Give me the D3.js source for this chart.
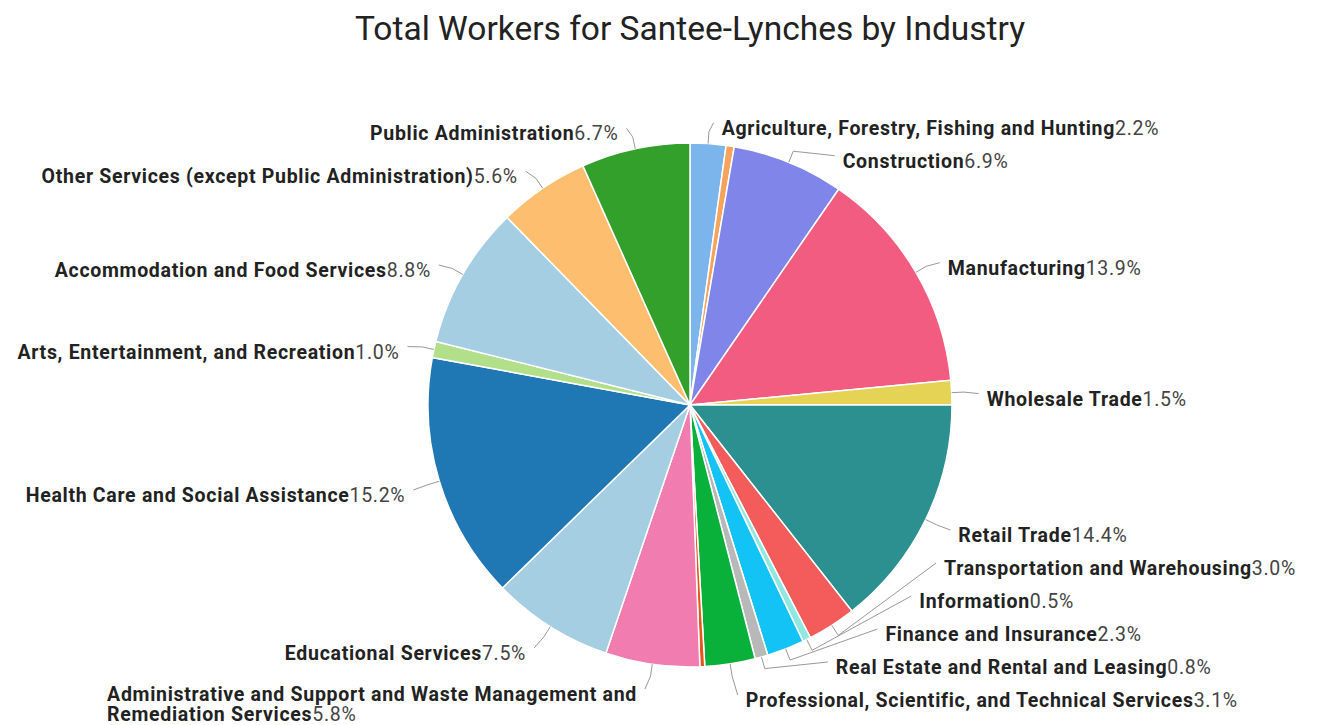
<!DOCTYPE html>
<html>
<head>
<meta charset="utf-8">
<script src="https://cdn.jsdelivr.net/npm/d3@7"></script>
<style>
  body { margin: 0; background: #fff; font-family: Roboto, "Noto Sans", sans-serif; }
  .title { font-size: 33.5px; fill: #222; }
  .lbl { font-size: 19.5px; fill: #222; letter-spacing: 0.7px; }
  .lbl .nm { font-weight: bold; }
  .lbl .pc { font-weight: normal; fill: #444; }
</style>
</head>
<body>
<div id="chart"></div>
<script>
// industries in pie order, clockwise from 12 o'clock ("" = slice drawn without label)
const industries = [
  "Agriculture, Forestry, Fishing and Hunting", "", "Construction", "Manufacturing",
  "Wholesale Trade", "Retail Trade", "Transportation and Warehousing", "Information",
  "Finance and Insurance", "Real Estate and Rental and Leasing",
  "Professional, Scientific, and Technical Services", "",
  "Administrative and Support and Waste Management and Remediation Services",
  "Educational Services", "Health Care and Social Assistance",
  "Arts, Entertainment, and Recreation", "Accommodation and Food Services",
  "Other Services (except Public Administration)", "Public Administration"
];
const shares = [2.2, 0.5, 6.9, 13.9, 1.5, 14.4, 3.0, 0.5, 2.3, 0.8, 3.1, 0.3, 5.8, 7.5, 15.2, 1.0, 8.8, 5.6, 6.7];
const colors = [
  "#7cb5ec", "#f7a35c", "#8085e9", "#f15c80", "#e4d354", "#2b908f", "#f45b5b", "#91e8e1",
  "#14c3f5", "#b8b8b8", "#09b13b", "#e4581c", "#f17cb0", "#a6cee3", "#1f78b4", "#b2df8a",
  "#a6cee3", "#fdbf6f", "#33a02c"
];

const W = 1319, H = 725;
const cx = 690, cy = 405, r = 262;
const labelR = 285, lineH = 20, gap = 33;

const svg = d3.select("#chart").append("svg")
  .attr("width", W).attr("height", H);

svg.append("text")
  .attr("class", "title")
  .attr("x", cx).attr("y", 40)
  .attr("text-anchor", "middle")
  .text("Total Workers for Santee-Lynches by Industry");

const data = industries.map((name, i) => ({name, value: shares[i], color: colors[i]}));
const pie = d3.pie().sort(null).value(d => d.value);
const arcs = pie(data);
const arc = d3.arc().innerRadius(0).outerRadius(r);

const g = svg.append("g").attr("transform", `translate(${cx},${cy})`);

g.selectAll("path.slice")
  .data(arcs)
  .join("path")
  .attr("class", "slice")
  .attr("d", arc)
  .attr("fill", d => d.data.color)
  .attr("stroke", "#fff")
  .attr("stroke-width", 1.5);

// label layout
const labels = arcs.filter(d => d.data.name !== "").map(d => {
  const a = (d.startAngle + d.endAngle) / 2;
  const side = Math.sin(a) >= 0 ? 1 : -1;
  return {d, a, side, ny: cy - labelR * Math.cos(a) + 7, ndx: labelR * Math.abs(Math.sin(a)) + 12};
});

// measure wrapping
const meas = svg.append("text").attr("class", "lbl").style("font-weight", "bold");
function textW(s) { meas.text(s); return meas.node().getComputedTextLength(); }
labels.forEach(l => {
  const pct = d3.format(".1f")(l.d.data.value) + "%";
  const words = l.d.data.name.split(" ");
  const lines = [];
  let cur = "";
  words.forEach(w => {
    const t = cur ? cur + " " + w : w;
    if (cur && textW(t) > 580) { lines.push(cur); cur = w; } else cur = t;
  });
  lines.push(cur);
  l.lines = lines;
  l.pct = pct;
});
meas.remove();

[1, -1].forEach(side => {
  const ls = labels.filter(l => l.side === side).sort((p, q) => p.ny - q.ny);
  ls.forEach(l => l.y = l.ny);
  for (let i = 1; i < ls.length; i++) {
    ls[i].y = Math.max(ls[i].y, ls[i - 1].y + gap + (ls[i - 1].lines.length - 1) * lineH);
  }
  const bottom = 700;
  const last = ls[ls.length - 1];
  last.y = Math.min(last.y, bottom);
  for (let i = ls.length - 2; i >= 0; i--) {
    ls[i].y = Math.min(ls[i].y, ls[i + 1].y - gap - (ls[i].lines.length - 1) * lineH);
  }
  ls.forEach(l => {
    let dx = l.ndx;
    if (Math.abs(l.y - l.ny) > 3) {
      const dy = l.y - 7 - cy;
      const c = Math.abs(dy) < 288 ? Math.sqrt(288 * 288 - dy * dy) + 12 : 12;
      dx = Math.max(dx, c);
    }
    l.x = cx + side * dx;
  });
});

// connectors
svg.append("g").selectAll("path")
  .data(labels)
  .join("path")
  .attr("fill", "none")
  .attr("stroke", "#999")
  .attr("stroke-width", 1)
  .attr("d", l => {
    const sx = cx + r * Math.sin(l.a), sy = cy - r * Math.cos(l.a);
    const mx = cx + (r + 12) * Math.sin(l.a), my = cy - (r + 12) * Math.cos(l.a);
    const ex = l.x - l.side * 8, ey = l.y - 5;
    return `M${sx},${sy}L${mx},${my}L${ex},${ey}`;
  });

// label texts
const lt = svg.append("g").selectAll("text")
  .data(labels)
  .join("text")
  .attr("class", "lbl")
  .attr("dominant-baseline", "central");

lt.each(function(l) {
  const t = d3.select(this);
  if (l.lines.length === 1) {
    t.attr("x", l.x).attr("y", l.y).attr("text-anchor", l.side > 0 ? "start" : "end");
    t.append("tspan").attr("class", "nm").text(l.lines[0]);
    t.append("tspan").attr("class", "pc").text(l.pct);
  } else {
    // right-align the block on the left side, lines left-aligned inside it
    const tmp = t.append("tspan").attr("class", "nm").text(l.lines[0]);
    const w = tmp.node().getComputedTextLength();
    tmp.remove();
    const left = l.side > 0 ? l.x : l.x - w;
    l.lines.forEach((ln, i) => {
      t.append("tspan").attr("class", "nm").attr("x", left).attr("y", l.y + i * lineH).text(ln);
    });
    t.append("tspan").attr("class", "pc").text(l.pct);
  }
});
</script>
</body>
</html>
